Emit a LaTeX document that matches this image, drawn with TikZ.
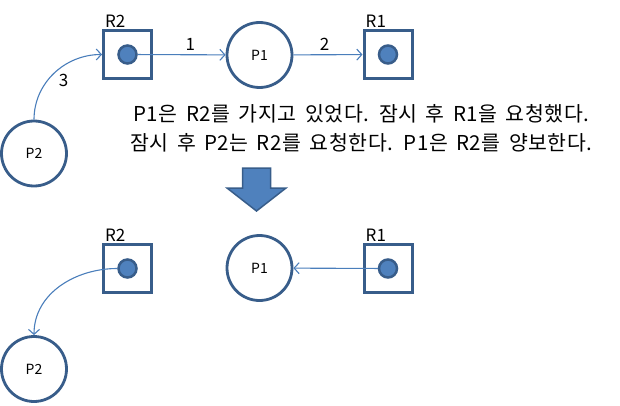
\documentclass[tikz,border=0pt]{standalone}
\usepackage{fontspec}
\setmainfont{Noto Sans CJK KR}
\newfontfamily\notefont[LetterSpace=3, WordSpace=1.6]{Noto Sans CJK KR}
\usepackage{tikz}
\usepackage{xcolor}
\usetikzlibrary{
    arrows.meta,
    positioning,
    calc
}
\definecolor{edge}{HTML}{385D8A}
\definecolor{fillblue}{HTML}{4F81BD}
\definecolor{link}{HTML}{4A7EBB}
\definecolor{dark}{HTML}{000000}
\tikzset{
    % Process node style
    process/.style={
        circle,
        minimum size=65pt,
        inner sep=0pt,
        draw=edge,
        fill=white,
        line width=2.8pt,
        font=\fontsize{14}{16}\selectfont
    },
    % Resource box style
    resource/.style={
        rectangle,
        minimum size=48pt,
        inner sep=0pt,
        draw=edge,
        fill=white,
        line width=3pt
    },
    % Resource instance dot
    instance/.style={
        circle,
        minimum size=18pt,
        inner sep=0pt,
        draw=edge,
        fill=fillblue,
        line width=2.5pt
    },
    % Resource name style
    resname/.style={
        font=\fontsize{17}{19}\selectfont,
        text=dark,
        inner sep=1pt,
        anchor=south west
    },
    % Arrow styles
    request/.style={
        -{Straight Barb[length=5pt, width=11pt]},
        line width=1.1pt,
        color=link
    },
    % Edge label style
    step label/.style={
        font=\fontsize{17}{19}\selectfont,
        text=dark,
        inner sep=2pt
    },
    % Explanation text style
    note/.style={
        font=\notefont\fontsize{20.5}{29}\selectfont,
        align=center,
        text=dark,
        inner sep=0pt
    }
}
\begin{document}
\begin{tikzpicture}[x=1pt, y=1pt]
        \useasboundingbox (0,0) rectangle (620,405);

        % Before
        \node[resource] (r2a) at (127.5, 350.5) {};
        \node[instance] (r2adot) at (r2a) {};
        \node[resname] at ([xshift=2pt]r2a.north west) {R2};
        \node[process] (p1a) at (259.5, 350) {P1};
        \node[resource] (r1a) at (388, 350.5) {};
        \node[instance] (r1adot) at (r1a) {};
        \node[resname] at ([xshift=2pt]r1a.north west) {R1};
        \node[process] (p2a) at (34, 251.5) {P2};

        \draw[request] (r2adot) -- node[step label, above=2pt, pos=0.6] {1} (p1a);
        \draw[request] (p1a) -- node[step label, above=2pt, pos=0.45] {2} (r1a);
        \draw[request] (p2a.north) to[out=90, in=180] node[step label, pos=0.4, right=9pt] {3} (r2a.west);

        % Explanation
        \node[note] (txt) at (361.5, 276.5) {P1은 R2를 가지고 있었다. 잠시 후 R1을 요청했다.\\잠시 후 P2는 R2를 요청한다. P1은 R2를 양보한다.};

        % Transition arrow
        \coordinate (down) at (256.5, 194);
        \draw[edge, fill=fillblue, line width=1.5pt, line join=miter]
            ($(down)+(-14,43)$) -- ($(down)+(14,43)$) -- ($(down)+(14,23)$) -- ($(down)+(29.5,23)$)
            -- (down) -- ($(down)+(-29.5,23)$) -- ($(down)+(-14,23)$) -- cycle;

        % After
        \node[resource] (r2b) at (127.5, 136.5) {};
        \node[instance] (r2bdot) at (r2b) {};
        \node[resname] at ([xshift=2pt]r2b.north west) {R2};
        \node[process] (p1b) at (259.5, 137) {P1};
        \node[resource] (r1b) at (388, 136.5) {};
        \node[instance] (r1bdot) at (r1b) {};
        \node[resname] at ([xshift=2pt]r1b.north west) {R1};
        \node[process] (p2b) at (34, 36) {P2};

        \draw[request] (r1bdot) -- (p1b);
        \draw[request] (r2bdot) to[out=180, in=90] (p2b.north);

    \end{tikzpicture}
\end{document}
